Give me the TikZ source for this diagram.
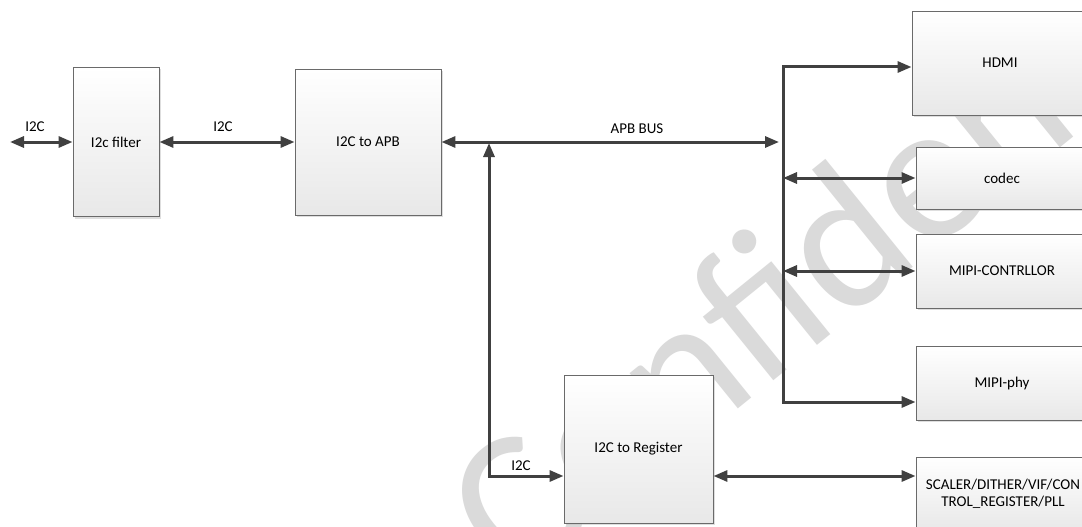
\documentclass[tikz,border=0pt]{standalone}
\usepackage{fontspec}
\setmainfont{Carlito}
\usetikzlibrary{arrows.meta,shadows}
\definecolor{lncol}{HTML}{404040}
\definecolor{bordcol}{HTML}{6A6A6A}
\definecolor{wmcol}{HTML}{DADADA}
\tikzset{
  blk/.style={draw=bordcol, line width=0.9pt, top color=white, bottom color=black!9,
    inner sep=2pt, align=center, font=\fontsize{15}{17}\selectfont,
    drop shadow={shadow xshift=2pt, shadow yshift=-2pt, fill=black!25, opacity=0.5}},
  conn/.style={draw=lncol, line width=3pt, line join=miter,
    arrows={-}, >={Triangle[length=14pt,width=11pt]}},
  lbl/.style={font=\fontsize{15}{17}\selectfont, inner sep=0pt}
}
\begin{document}
\begin{tikzpicture}[x=1pt,y=-1pt]
\clip (0,0) rectangle (1082,527);
\useasboundingbox (0,0) rectangle (1082,527);
\fill[white] (0,0) rectangle (1082,527);
% watermark
\node[rotate=39, anchor=base west, text=wmcol, inner sep=0pt,
  font=\fontsize{200}{200}\selectfont] (wm) at (515,590) {Confidence};
% boxes
\node[blk, minimum width=86pt, minimum height=149pt] (filt) at (116,142) {I2c filter};
\node[blk, minimum width=146pt, minimum height=146pt] (apb) at (368,142) {I2C to APB};
\node[blk, minimum width=176pt, minimum height=104pt] (hdmi) at (1000,63) {HDMI};
\node[blk, minimum width=172pt, minimum height=62pt] (codec) at (1002,178) {codec};
\node[blk, minimum width=172pt, minimum height=74pt] (mipic) at (1002,271) {MIPI-CONTRLLOR};
\node[blk, minimum width=172pt, minimum height=74pt] (mipip) at (1002,383) {MIPI-phy};
\node[blk, minimum width=149pt, minimum height=148pt] (reg) at (638.5,449) {I2C to Register};
\node[blk, minimum width=174pt, minimum height=74pt, text width=170pt] (scal) at (1003,494)
  {SCALER/DITHER/VIF/CON\\TROL\_REGISTER/PLL};
% coordinates
\coordinate (lft) at (10,142);
\coordinate (busin) at (779,142);
\coordinate (bustop) at (783,67);
\coordinate (busbot) at (783,402);
\coordinate (bcodec) at (783,178);
\coordinate (bmipic) at (783,271);
\coordinate (vup) at (489,143);
\coordinate (vdn) at (489,476);
% connectors
\draw[conn,<->] (lft) -- (filt.west);
\draw[conn,<->] (filt.east) -- (apb.west);
\draw[conn,<->] (apb.east) -- (busin);
\draw[conn,<->] (bustop -| hdmi.west) -- (bustop) -- (busbot) -- (busbot -| mipip.west);
\draw[conn,<->] (bcodec) -- (bcodec -| codec.west);
\draw[conn,<->] (bmipic) -- (bmipic -| mipic.west);
\draw[conn,<->] (vdn -| reg.west) -- (vdn) -- (vup);
\draw[conn,<->] (vdn -| reg.east) -- (vdn -| scal.west);
% labels
\node[lbl] (l1) at (35,127) {I2C};
\node[lbl] (l2) at (223,127) {I2C};
\node[lbl] (l3) at (637,129) {APB BUS};
\node[lbl] (l4) at (521,466) {I2C};
\end{tikzpicture}
\end{document}
